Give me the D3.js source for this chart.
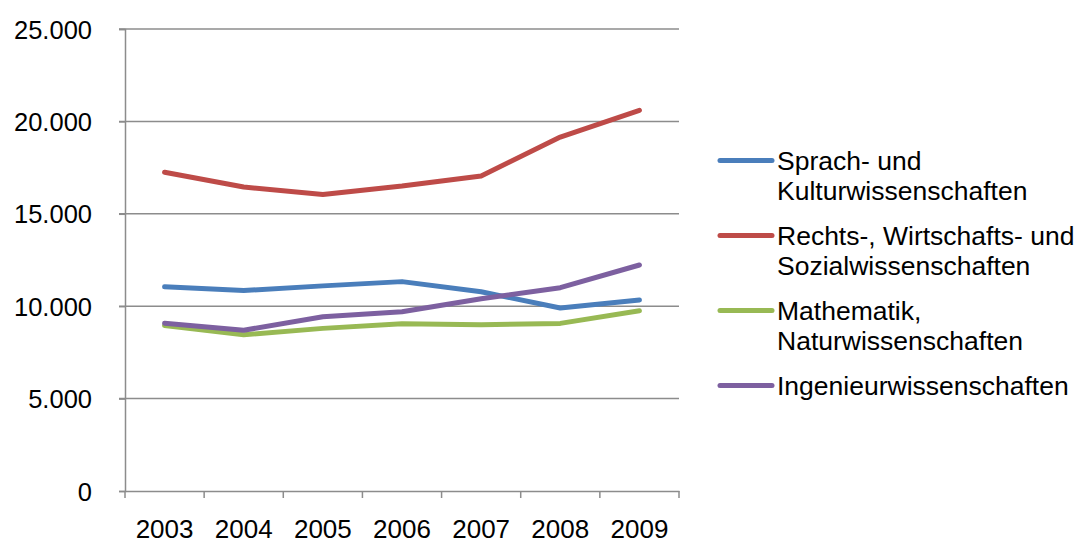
<!DOCTYPE html>
<html><head><meta charset="utf-8">
<script src="https://cdn.jsdelivr.net/npm/d3@7"></script>
<style>
html,body{margin:0;padding:0;background:#fff;}
svg text{font-family:"Liberation Sans",Arial,sans-serif;fill:#000;}
</style></head>
<body><svg id="c" width="1081" height="543"></svg>
<script>
const years = ["2003","2004","2005","2006","2007","2008","2009"];
const yTicks = [0,5000,10000,15000,20000,25000];
const seriesNames = [
  ["Sprach- und","Kulturwissenschaften"],
  ["Rechts-, Wirtschafts- und","Sozialwissenschaften"],
  ["Mathematik,","Naturwissenschaften"],
  ["Ingenieurwissenschaften"]
];
const sprach = [11050,10850,11100,11330,10780,9900,10330];
const rechts = [17250,16450,16050,16500,17050,19150,20600];
const mathe  = [8950,8450,8800,9050,9000,9070,9750];
const ingen  = [9080,8700,9430,9700,10400,11000,12230];
const colors = ["#4A7EBB","#BE4B48","#98B954","#7D60A0"];
const series = [sprach,rechts,mathe,ingen];

const svg = d3.select("#c");
const x = d3.scaleBand().domain(years).range([125,679]);
const y = d3.scaleLinear().domain([0,25000]).range([491,29]);
const fmt = v => d3.format(",")(v).replace(/,/g,".");

// gridlines
svg.append("g").selectAll("line").data(yTicks.filter(d=>d>0)).join("line")
  .attr("x1",119).attr("x2",679).attr("y1",d=>y(d)).attr("y2",d=>y(d))
  .attr("stroke","#8c8c8c").attr("stroke-width",1.5);

// y axis
const ya = svg.append("g").attr("transform","translate(125,0)")
  .call(d3.axisLeft(y).tickValues(yTicks).tickFormat(fmt).tickSize(6).tickPadding(27));
ya.select(".domain").attr("stroke","#8c8c8c").attr("stroke-width",1.5);
ya.selectAll(".tick line").attr("stroke","#8c8c8c").attr("stroke-width",1.5);
ya.selectAll("text").style("font-size","25.5px").attr("dy","0.36em");

// x axis
const xa = svg.append("g").attr("transform","translate(0,491)")
  .call(d3.axisBottom(x).tickSize(0).tickPadding(0));
xa.select(".domain").attr("stroke","#8c8c8c").attr("stroke-width",1.5);
xa.selectAll("text").style("font-size","26px").attr("dy",null).attr("y",47);
const edges = years.map(d=>x(d)).concat([x.range()[1]]);
svg.append("g").selectAll("line").data(edges).join("line")
  .attr("x1",d=>d).attr("x2",d=>d).attr("y1",491).attr("y2",498)
  .attr("stroke","#8c8c8c").attr("stroke-width",1.5);

// lines
const line = d3.line().x((d,i)=>x(years[i])+x.bandwidth()/2).y(d=>y(d));
series.forEach((s,k)=>{
  svg.append("path").datum(s).attr("d",line).attr("fill","none")
    .attr("stroke",colors[k]).attr("stroke-width",5)
    .attr("stroke-linecap","round").attr("stroke-linejoin","round");
});

// legend
const legY = [160.5,235.5,310.5,385.5];
const lg = svg.append("g");
seriesNames.forEach((lines,k)=>{
  lg.append("line").attr("x1",720).attr("x2",772).attr("y1",legY[k]).attr("y2",legY[k])
    .attr("stroke",colors[k]).attr("stroke-width",5).attr("stroke-linecap","round");
  lines.forEach((t,j)=>{
    lg.append("text").attr("x",777).attr("y",legY[k]+j*29.5).attr("dy","0.36em")
      .style("font-size","26.5px").text(t);
  });
});
</script></body></html>
